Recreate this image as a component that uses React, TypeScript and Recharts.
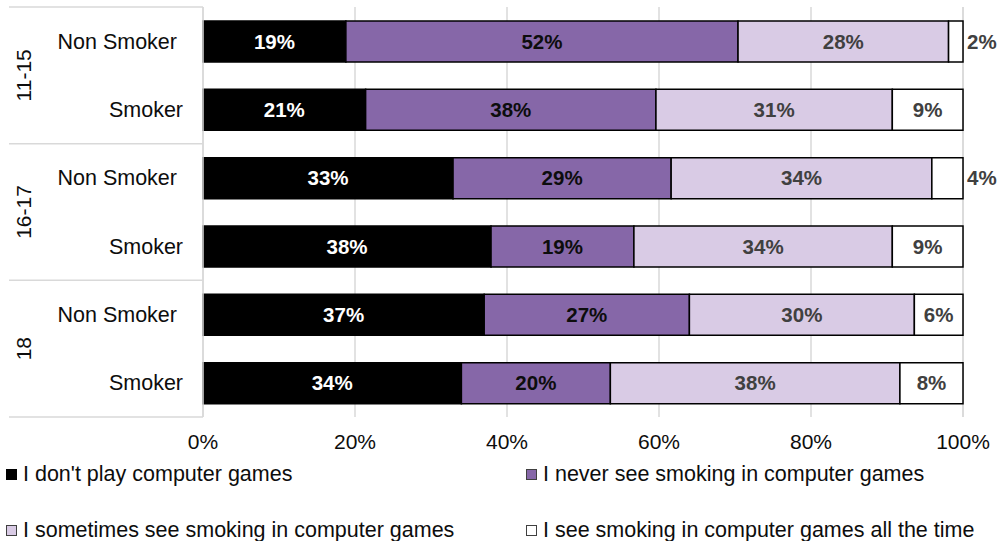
import React from 'react';
import { BarChart, Bar, XAxis, YAxis, CartesianGrid, Legend, LabelList } from 'recharts';

// rows top to bottom
const categories = ['Non Smoker', 'Smoker', 'Non Smoker', 'Smoker', 'Non Smoker', 'Smoker'];
const ageGroups = ['11-15', '16-17', '18'];

// shares in percent
const dontPlay = [18.8, 21.4, 32.9, 37.9, 37.0, 34.0];
const neverSee = [51.6, 38.2, 28.7, 18.8, 27.0, 19.6];
const sometimesSee = [27.7, 31.1, 34.3, 34.0, 29.6, 38.1];
const allTheTime = [1.9, 9.3, 4.1, 9.3, 6.4, 8.3];

const xTicks = [0, 20, 40, 60, 80, 100];

const seriesNames = [
  "I don't play computer games",
  'I never see smoking in computer games',
  'I sometimes see smoking in computer games',
  'I see smoking in computer games all the time',
];
const seriesColors = ['#000000', '#8667A8', '#D9CBE5', '#FFFFFF'];
const labelColors = ['#FFFFFF', '#0D0D0D', '#404040', '#404040'];

const data = categories.map((name, i) => ({
  name,
  group: ageGroups[Math.floor(i / 2)],
  dontPlay: dontPlay[i],
  neverSee: neverSee[i],
  sometimesSee: sometimesSee[i],
  allTheTime: allTheTime[i],
}));

const FONT = '"Liberation Sans", Arial, sans-serif';
const PLOT_TOP = 7;
const PLOT_BOTTOM = 417;
const BAND = (PLOT_BOTTOM - PLOT_TOP) / categories.length;
const AXIS_X = 203;
const LINE = '#D9D9D9';

const CategoryTick = (props: any) => {
  const { y, index, payload } = props;
  const isNon = index % 2 === 0;
  return (
    <g>
      <text
        x={isNon ? 177 : 183}
        y={y}
        dy="0.355em"
        textAnchor="end"
        fontSize={21.5}
        fill="#0D0D0D"
        fontFamily={FONT}
      >
        {payload.value}
      </text>
      {index === 0 && <line x1={9} x2={AXIS_X} y1={y - BAND / 2} y2={y - BAND / 2} stroke={LINE} strokeWidth={1.5} />}
      {!isNon && <line x1={9} x2={AXIS_X} y1={y + BAND / 2} y2={y + BAND / 2} stroke={LINE} strokeWidth={1.5} />}
      {isNon && (
        <text
          x={24}
          y={y + BAND / 2}
          transform={`rotate(-90, 24, ${y + BAND / 2})`}
          textAnchor="middle"
          dy="0.355em"
          fontSize={21}
          fill="#0D0D0D"
          fontFamily={FONT}
        >
          {data[index].group}
        </text>
      )}
    </g>
  );
};

const makeLabel = (color: string) => (props: any) => {
  const { x, y, width, height, value } = props;
  const text = `${Math.round(value)}%`;
  const outside = width < 35;
  return (
    <text
      x={outside ? x + width + 4 : x + width / 2}
      y={y + height / 2}
      dy="0.355em"
      textAnchor={outside ? 'start' : 'middle'}
      fontSize={20.5}
      fontWeight="bold"
      fill={outside ? '#404040' : color}
      fontFamily={FONT}
    >
      {text}
    </text>
  );
};

const LegendContent = () => (
  <div
    style={{
      height: 92,
      width: 1003,
      boxSizing: 'border-box',
      paddingTop: 14,
      display: 'grid',
      gridTemplateColumns: '520px 483px',
      rowGap: 34,
      gridAutoRows: '22px',
      fontFamily: FONT,
      fontSize: 21.5,
      color: '#0D0D0D',
    }}
  >
    {seriesNames.map((n, i) => (
      <div key={n} style={{ display: 'flex', alignItems: 'center', paddingLeft: 6, whiteSpace: 'nowrap' }}>
        <span
          style={{
            display: 'inline-block',
            width: 11,
            height: 11,
            boxSizing: 'border-box',
            background: seriesColors[i],
            border: `1.5px solid ${i === 0 ? '#000' : '#404040'}`,
            marginRight: 6,
          }}
        />
        {n}
      </div>
    ))}
  </div>
);

const keys = ['dontPlay', 'neverSee', 'sometimesSee', 'allTheTime'];

export default function App() {
  return (
    <div style={{ position: 'absolute', left: 0, top: 0, fontFamily: FONT }}>
      <BarChart
        width={1003}
        height={541}
        data={data}
        layout="vertical"
        margin={{ top: PLOT_TOP, right: 40, bottom: 0, left: 0 }}
        barSize={41}
      >
        <CartesianGrid horizontal={false} stroke={LINE} strokeWidth={1.5} />
        <XAxis
          type="number"
          domain={[0, 100]}
          ticks={xTicks}
          tickFormatter={(v) => `${v}%`}
          axisLine={false}
          tickLine={false}
          tickMargin={11}
          height={32}
          tick={{ fontSize: 21, fill: '#0D0D0D', fontFamily: FONT }}
          interval={0}
        />
        <YAxis
          type="category"
          dataKey="name"
          width={AXIS_X}
          axisLine={{ stroke: LINE, strokeWidth: 1.5 }}
          tickLine={false}
          tick={<CategoryTick />}
          interval={0}
        />
        <Legend verticalAlign="bottom" content={<LegendContent />} />
        {keys.map((k, i) => (
          <Bar
            key={k}
            dataKey={k}
            name={seriesNames[i]}
            stackId="a"
            fill={seriesColors[i]}
            stroke="#000"
            strokeWidth={1.5}
            isAnimationActive={false}
          >
            <LabelList dataKey={k} content={makeLabel(labelColors[i])} />
          </Bar>
        ))}
      </BarChart>
    </div>
  );
}
